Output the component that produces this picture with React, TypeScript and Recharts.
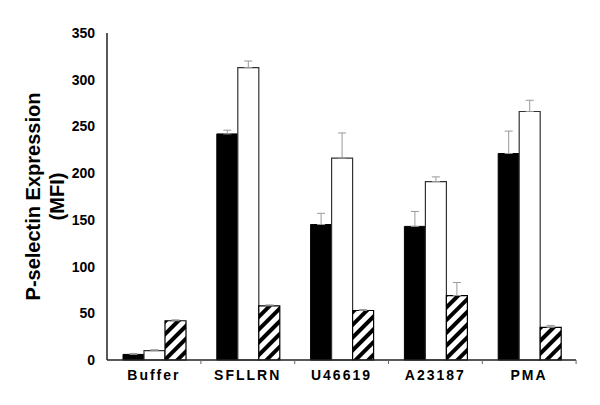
import { Bar, BarChart, ErrorBar, Label, XAxis, YAxis } from 'recharts';

const categories = ['Buffer', 'SFLLRN', 'U46619', 'A23187', 'PMA'];
const solidValues = [6, 242, 145, 143, 221];
const solidErrors = [1, 4, 12, 16, 24];
const openValues = [10, 313, 216, 191, 266];
const openErrors = [1, 7, 27, 5, 12];
const hatchedValues = [42, 58, 53, 69, 35];
const hatchedErrors = [1, 1, 1, 14, 2];
const yTicks = [0, 50, 100, 150, 200, 250, 300, 350];

const data = categories.map((name, i) => ({
  name,
  solid: solidValues[i],
  solidErr: [0, solidErrors[i]],
  open: openValues[i],
  openErr: [0, openErrors[i]],
  hatched: hatchedValues[i],
  hatchedErr: [0, hatchedErrors[i]],
}));

const FONT = '"Liberation Sans", Arial, sans-serif';
const BAND = 94;

function CategoryTick({ x, y, payload }: any) {
  return (
    <g>
      <line x1={x + BAND / 2} y1={y - 8} x2={x + BAND / 2} y2={y - 4} stroke="#666" />
      <text
        x={x}
        y={y + 12}
        textAnchor="middle"
        fontFamily={FONT}
        fontWeight="bold"
        fontSize={14}
        letterSpacing={2}
        fill="#000"
      >
        {payload.value}
      </text>
    </g>
  );
}

function AxisTitle({ viewBox }: any) {
  const cy = viewBox.y + viewBox.height / 2;
  return (
    <g fontFamily={FONT} fontWeight="bold" fontSize={20} fill="#000">
      <text x={40} y={cy} textAnchor="middle" transform={`rotate(-90 40 ${cy})`}>
        P-selectin Expression
      </text>
      <text x={64} y={cy} textAnchor="middle" transform={`rotate(-90 64 ${cy})`}>
        (MFI)
      </text>
    </g>
  );
}

export default function App() {
  return (
    <div style={{ position: 'absolute', left: 0, top: 0, background: '#fff' }}>
      <BarChart
        width={600}
        height={405}
        data={data}
        margin={{ top: 33, right: 24, left: 47, bottom: 15 }}
        barGap={0}
        barCategoryGap={16}
      >
        <defs>
          <pattern id="hatch" width="9" height="9" patternUnits="userSpaceOnUse" patternTransform="rotate(45)">
            <rect width="9" height="9" fill="#fff" />
            <rect width="4" height="9" fill="#000" />
          </pattern>
        </defs>
        <XAxis
          dataKey="name"
          height={30}
          tick={<CategoryTick />}
          tickLine={false}
          axisLine={{ stroke: '#222', strokeWidth: 1.5 }}
          interval={0}
        />
        <YAxis
          width={60}
          domain={[0, 350]}
          ticks={yTicks}
          tickLine={false}
          axisLine={{ stroke: '#222', strokeWidth: 1.5 }}
          tickMargin={6}
          tick={{ fontFamily: FONT, fontWeight: 'bold', fontSize: 14, fill: '#000' }}
        >
          <Label content={<AxisTitle />} />
        </YAxis>
        <Bar dataKey="solid" fill="#000" stroke="#000" isAnimationActive={false}>
          <ErrorBar dataKey="solidErr" direction="y" width={4} stroke="#999" strokeWidth={1} />
        </Bar>
        <Bar dataKey="open" fill="#fff" stroke="#333" strokeWidth={1.2} isAnimationActive={false}>
          <ErrorBar dataKey="openErr" direction="y" width={4} stroke="#999" strokeWidth={1} />
        </Bar>
        <Bar dataKey="hatched" fill="url(#hatch)" stroke="#000" strokeWidth={1.2} isAnimationActive={false}>
          <ErrorBar dataKey="hatchedErr" direction="y" width={4} stroke="#999" strokeWidth={1} />
        </Bar>
      </BarChart>
    </div>
  );
}
